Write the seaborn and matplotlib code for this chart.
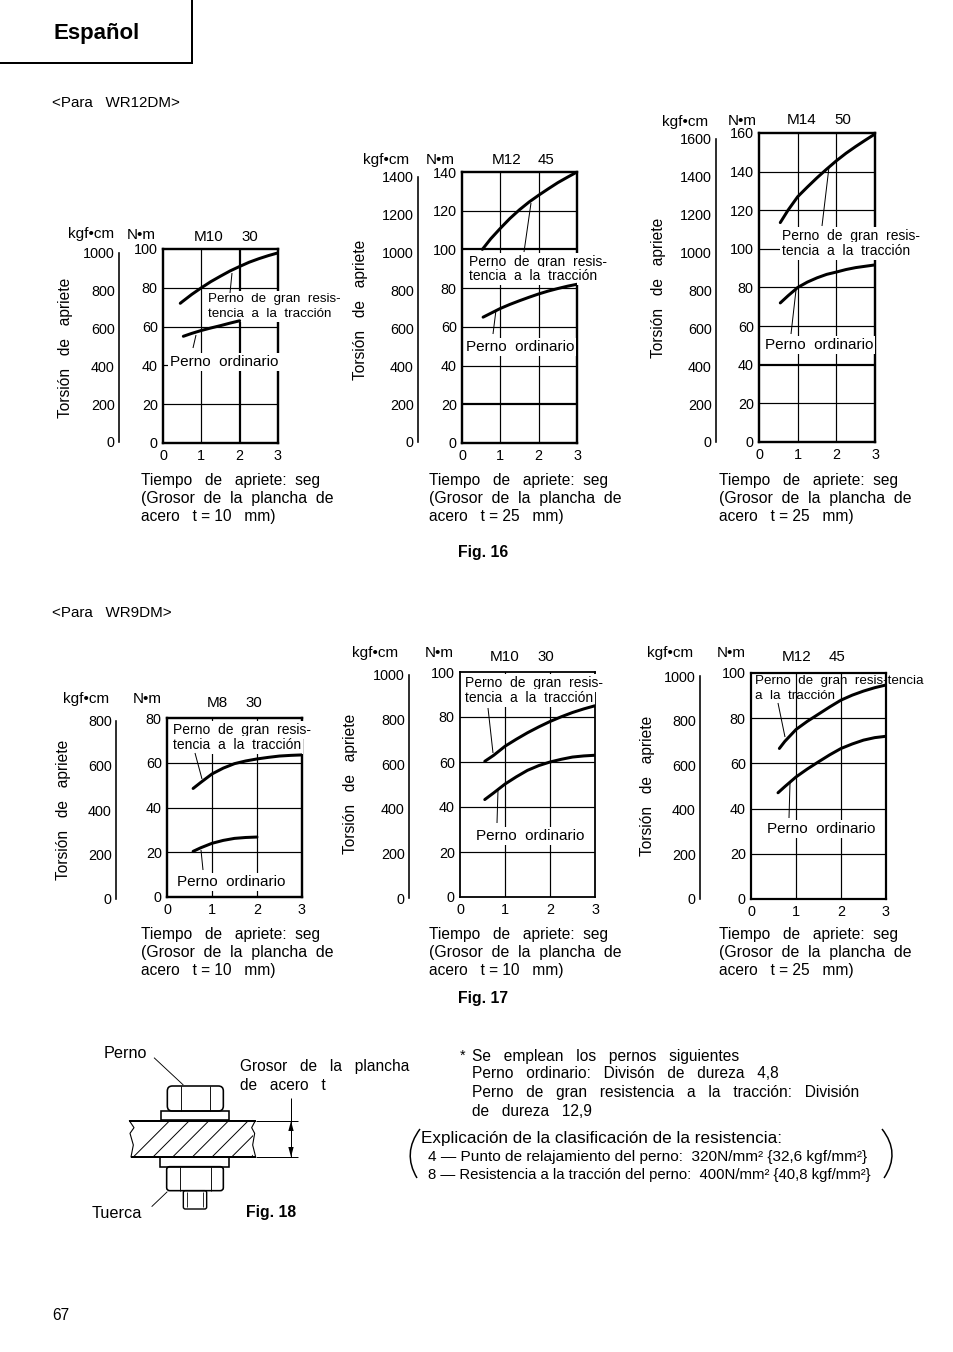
import numpy as np
import pandas as pd
import matplotlib
matplotlib.use("Agg")
import matplotlib.pyplot as plt
import seaborn as sns
from matplotlib.path import Path
from matplotlib.patches import PathPatch, Rectangle, FancyBboxPatch

# ---------------- data ----------------
chart_ids = ["c1", "c2", "c3", "c4", "c5", "c6"]
time_ticks = [0, 1, 2, 3]
nm_max = [100, 140, 160, 80, 100, 100]
kgf_max = [1000, 1400, 1600, 800, 1000, 1000]

t_tail = [1, 1.25, 1.5, 1.75, 2, 2.25, 2.5, 2.75, 3]
high_x = {"c1": [0.45, 0.5, 0.75] + t_tail, "c2": [0.53, 0.75] + t_tail, "c3": [0.55, 0.75] + t_tail,
          "c4": [0.58, 0.75] + t_tail, "c5": [0.55, 0.75] + t_tail, "c6": [0.63, 0.75] + t_tail}
high_y = {"c1": [72, 72.8, 76.6, 80, 83.2, 86, 88.7, 91, 93.2, 95, 96.6, 98],
          "c2": [100, 105.5, 110.9, 116, 120.5, 124.5, 128, 131.3, 134.5, 137.3, 140],
          "c3": [113.6, 120, 127, 132, 136.8, 141.3, 145.6, 149.5, 153, 156.3, 159.5],
          "c4": [48.5, 51.2, 55, 57.6, 59.6, 60.8, 61.7, 62.4, 63, 63.3, 63.5],
          "c5": [60.3, 63, 67, 70.1, 73, 75.6, 78, 80.1, 82, 83.6, 85],
          "c6": [66.6, 69.7, 75, 78.6, 81.8, 85, 88, 90.2, 92, 93.5, 94.7]}
ord_x = {"c1": [0.53, 0.75, 1, 1.25, 1.5, 1.75, 2], "c2": [0.55, 0.75] + t_tail, "c3": [0.55, 0.75] + t_tail,
         "c4": [0.58, 0.75, 1, 1.25, 1.5, 1.75, 2], "c5": [0.55, 0.75] + t_tail, "c6": [0.6, 0.75] + t_tail}
ord_y = {"c1": [55, 56.5, 58, 59.3, 60.5, 61.8, 63],
         "c2": [65, 67, 69.5, 71.6, 73.5, 75.3, 77, 78.5, 79.8, 81, 82],
         "c3": [72, 75.7, 80, 82.8, 85, 86.8, 88, 89.3, 90.3, 91, 91.7],
         "c4": [20.4, 22, 24, 25.3, 26.2, 26.6, 26.8],
         "c5": [43.3, 46.3, 50.2, 53.4, 56.3, 58.4, 60, 61.2, 62.2, 62.7, 63],
         "c6": [47, 49.7, 54, 57.5, 60.7, 63.8, 66.6, 68.6, 70.3, 71.4, 72]}

bolt_names = ["M10", "M12", "M14", "M8", "M10", "M12"]
bolt_nums = ["30", "45", "50", "30", "30", "45"]
thickness = ["10", "25", "25", "10", "10", "25"]

# ---------------- layout ----------------
W, H = 954, 1352
plt.rcdefaults()
sns.set_theme(style="white")
plt.rcParams["font.family"] = ["Liberation Sans", "DejaVu Sans"]
fig = plt.figure(figsize=(W / 100, H / 100), dpi=100, facecolor="white")
FS = 10.4
BODY = 11.2


def rect(l, t, r, b):
    return [l / W, 1 - b / H, (r - l) / W, (b - t) / H]


plot_boxes = [(163, 249, 278, 443), (462, 172, 577, 443), (759, 133, 875, 442),
              (167, 718, 302, 897), (460, 672, 595, 897), (751, 673, 886, 899)]
scale_boxes = [(119, 126, 253, 442), (418, 425, 177, 442), (716, 723, 139, 442),
               (116, 123, 721, 899), (409, 417, 675, 898), (700, 707, 676, 899)]
heavy_h = [[], [100, 20], [40], [], [], []]
heavy_v = [[2], [], [], [], [], []]
frame_px = [2.4, 2.4, 2.4, 2.4, 1.8, 2.2]
axs = []

for i, cid in enumerate(chart_ids):
    ax = fig.add_axes(rect(*plot_boxes[i]))
    axs.append(ax)
    ax.set_xlim(0, 3)
    ax.set_ylim(0, nm_max[i])
    yt = list(range(0, nm_max[i] + 1, 20))
    for v in yt[1:-1]:
        ax.axhline(v, color="black", lw=(2.2 if v in heavy_h[i] else 1.2) * 0.72, zorder=1)
    for v in time_ticks[1:-1]:
        ax.axvline(v, color="black", lw=(2.2 if v in heavy_v[i] else 1.2) * 0.72, zorder=1)
    d = pd.concat([
        pd.DataFrame({"t": high_x[cid], "v": high_y[cid], "s": "alta"}),
        pd.DataFrame({"t": ord_x[cid], "v": ord_y[cid], "s": "ordinario"}),
    ])
    sns.lineplot(data=d, x="t", y="v", units="s", estimator=None, color="black", lw=3.0 * 0.72,
                 ax=ax, legend=False, zorder=3, solid_joinstyle="round")
    ax.set_xlabel("")
    ax.set_ylabel("")
    ax.set_xticks(time_ticks)
    ax.set_yticks(yt)
    ax.tick_params(axis="both", length=0, labelsize=FS, colors="black")
    ax.tick_params(axis="y", pad=3.8)
    ax.tick_params(axis="x", pad=4.4)
    ax.patch.set_alpha(0)
    for s in ax.spines.values():
        s.set_visible(True)
        s.set_color("black")
        s.set_linewidth(frame_px[i] * 0.72)
        s.set_zorder(1.5)

    x0, x1, t, b = scale_boxes[i]
    ax2 = fig.add_axes(rect(x0, t, x1, b))
    ax2.set_xlim(0, 1)
    ax2.set_ylim(0, kgf_max[i])
    ax2.set_xticks([])
    ax2.set_yticks(list(range(0, kgf_max[i] + 1, 200)))
    ax2.patch.set_alpha(0)
    for k, s in ax2.spines.items():
        s.set_visible(k == "left")
        s.set_color("black")
        s.set_linewidth(1.6 * 0.72)
    ax2.tick_params(axis="y", direction="in", length=(x1 - x0) * 0.72, width=1.4 * 0.72,
                    labelsize=FS, pad=3.0, colors="black")

# ---------------- overlay for the page text and Fig. 18 ----------------
ov = fig.add_axes([0, 0, 1, 1], zorder=10)
ov.set_xlim(0, W)
ov.set_ylim(H, 0)
ov.axis("off")
ov.patch.set_alpha(0)


def T(x, y, s, size=FS, ha="left", **kw):
    ov.text(x, y + 1, s, fontsize=size, ha=ha, va="center", color="black", **kw)


def L(x0, y0, x1, y1, lw=1.0, **kw):
    ov.plot([x0, x1], [y0, y1], color="black", lw=lw * 0.72, solid_capstyle="butt", **kw)


# header
L(192, 0, 192, 63, lw=2)
L(0, 63, 193, 63, lw=2)
T(54, 32, "Español", size=16.0, fontweight="bold")
T(52, 102, "<Para   WR12DM>", size=10.9)
T(52, 612, "<Para   WR9DM>", size=10.9)
T(458, 551, "Fig. 16", size=11.3, fontweight="bold")
T(458, 998, "Fig. 17", size=11.3, fontweight="bold")
T(246, 1212, "Fig. 18", size=11.3, fontweight="bold")
T(52, 1314, "67", size=11.2)

# chart captions
kgf_pos = [(68, 233), (363, 159), (662, 121), (63, 698), (352, 652), (647, 652)]
nm_pos = [(127, 234), (426, 159), (728, 120), (133, 698), (425, 652), (717, 652)]
m_pos = [(194, 236), (492, 159), (787, 119), (207, 702), (490, 656), (782, 656)]
n_x = [241, 538, 834, 245, 537, 829]
tor_pos = [(66, 348), (361, 310), (659, 288), (64, 810), (351, 784), (648, 786)]
tiempo_pos = [(141, 479), (429, 480), (719, 480), (141, 933), (429, 933), (719, 933)]
for i in range(6):
    T(*kgf_pos[i], "kgf•cm", size=11.0)
    T(*nm_pos[i], "N•m", size=11.0)
    T(*m_pos[i], bolt_names[i], size=11.0)
    T(n_x[i], m_pos[i][1], bolt_nums[i], size=10.8)
    ov.text(*tor_pos[i], "Torsión   de   apriete",
            fontsize=BODY, rotation=90, ha="center", va="center", color="black")
    tx, ty = tiempo_pos[i]
    T(tx, ty, "Tiempo   de   apriete:  seg", size=BODY)
    T(tx, ty + 18, "(Grosor  de  la  plancha  de", size=11.4)
    T(tx, ty + 36, f"acero   t = {thickness[i]}   mm)", size=BODY)

# notes inside the charts: white box above grid and frame, below the curves
WHITE = dict(facecolor="white", edgecolor="none", pad=1.2)
note_pos = [(208, 298, 313), (469, 261, 275), (782, 235, 250), (173, 729, 744), (465, 682, 697), (755, 680, 695)]
note_lines = [("Perno  de  gran  resis-", "tencia  a  la  tracción")] * 5 + [("Perno  de  gran  resis-tencia", "a  la  tracción")]
note_size = [9.6, 10.0, 10.0, 10.0, 10.0, 9.6]
ord_pos = [(170, 361), (466, 346), (765, 344), (177, 881), (476, 835), (767, 828)]


def N(i, x, y, s, size, box):
    axs[i].text(x, y + 1, s, transform=ov.transData, fontsize=size, ha="left", va="center",
                color="black", zorder=2, bbox=box)


for i in range(6):
    x, y0, y1 = note_pos[i]
    N(i, x, y0, note_lines[i][0], note_size[i], WHITE if i != 5 else None)
    N(i, x, y1, note_lines[i][1], note_size[i], WHITE if i != 5 else None)
    N(i, *ord_pos[i], "Perno  ordinario", 11.0, WHITE)

leaders = [(232, 273, 230, 293), (196, 335, 193, 348), (531, 203, 524, 252), (496, 310, 493, 334),
           (829, 167, 822, 226), (796, 290, 791, 334), (195, 753, 202, 779), (201, 850, 203, 870),
           (488, 708, 493, 753), (498, 790, 497, 823), (778, 703, 785, 737), (790, 783, 789, 818)]
for a in leaders:
    L(*a, lw=1.0, zorder=5)

# notes on the right
T(460, 1055, "*", size=10.2)
T(472, 1055, "Se   emplean   los   pernos   siguientes", size=BODY)
T(472, 1073, "Perno   ordinario:   Divisón   de   dureza   4,8", size=BODY)
T(472, 1091, "Perno   de   gran   resistencia   a   la   tracción:   División", size=BODY)
T(472, 1110, "de   dureza   12,9", size=BODY)
T(421, 1138, "Explicación de la clasificación de la resistencia:", size=12.3)
T(428, 1156, "4 — Punto de relajamiento del perno:  320N/mm² {32,6 kgf/mm²}", size=11.1)
T(428, 1174, "8 — Resistencia a la tracción del perno:  400N/mm² {40,8 kgf/mm²}", size=10.7)
for (a, b, c) in [((420, 1129), (402, 1153), (417, 1178)), ((882, 1129), (901, 1153), (884, 1178))]:
    ov.add_patch(PathPatch(Path([a, b, c], [Path.MOVETO, Path.CURVE3, Path.CURVE3]),
                           fill=False, ec="black", lw=1.5 * 0.72))


# Fig. 18 drawing (zoom-crop coordinates mapped to the page)
def Z(x, y):
    return 80 + x / 3, 1035 + y / 3


def ZL(x0, y0, x1, y1, lw=1.0):
    a, b = Z(x0, y0), Z(x1, y1)
    L(a[0], a[1], b[0], b[1], lw=lw)


def ZR(x0, y0, x1, y1, lw=1.6):
    a = Z(x0, y0)
    ov.add_patch(Rectangle(a, (x1 - x0) / 3, (y1 - y0) / 3, fill=False, ec="black", lw=lw * 0.72))


head = FancyBboxPatch(Z(262, 153), 168 / 3, 75 / 3, boxstyle="round,pad=0,rounding_size=5",
                      fill=False, ec="black", lw=1.6 * 0.72)
ov.add_patch(head)
ZL(302, 153, 302, 228, 0.9)
ZL(390, 153, 390, 228, 0.9)
ZR(243, 228, 448, 256, 1.6)
ZR(240, 367, 448, 395, 1.6)
nut = FancyBboxPatch(Z(260, 395), 170 / 3, 72 / 3, boxstyle="round,pad=0,rounding_size=3",
                     fill=False, ec="black", lw=1.6 * 0.72)
ov.add_patch(nut)
ZL(300, 395, 300, 467, 0.9)
ZL(392, 395, 392, 467, 0.9)
stud = FancyBboxPatch(Z(310, 467), 70 / 3, 55 / 3, boxstyle="round,pad=0,rounding_size=2",
                      fill=False, ec="black", lw=1.4 * 0.72)
ov.add_patch(stud)
ZL(322, 470, 322, 515, 0.8)
ZL(368, 470, 368, 515, 0.8)

# plate
pl_top, pl_bot = 257, 366
ZL(148, pl_top, 527, pl_top, 2.0)
ZL(152, pl_bot, 527, pl_bot, 2.0)
ys = [pl_top, 278, 295, 330, pl_bot]
ov.plot(*zip(*[Z(a, b) for a, b in zip([148, 162, 150, 160, 153], ys)]), color="black", lw=0.8)
ov.plot(*zip(*[Z(a, b) for a, b in zip([526, 515, 524, 518, 527], ys)]), color="black", lw=0.8)
clip = Rectangle(Z(155, pl_top), (520 - 155) / 3, (pl_bot - pl_top) / 3, transform=ov.transData)
for x0 in range(160, 600, 59):
    a, b = Z(x0, pl_bot), Z(x0 + 109, pl_top)
    ln, = ov.plot([a[0], b[0]], [a[1], b[1]], color="black", lw=0.7)
    ln.set_clip_path(clip)

# dimension
ZL(527, 258, 655, 258, 1.0)
ZL(527, 367, 655, 367, 1.0)
ZL(633, 190, 633, 367, 1.0)
for tip, base in [((633, 258), 288), ((633, 366), 336)]:
    pts = [Z(*tip), Z(625, base), Z(641, base)]
    ov.fill(*zip(*pts), color="black", lw=0)
ZL(222, 68, 310, 150, 0.9)
ZL(215, 515, 262, 470, 0.9)
T(104, 1053, "Perno", size=11.7)
T(92, 1212, "Tuerca", size=11.7)
T(240, 1066, "Grosor   de   la   plancha", size=BODY)
T(240, 1084, "de   acero   t", size=BODY)

fig.savefig("out.png", dpi=100)
